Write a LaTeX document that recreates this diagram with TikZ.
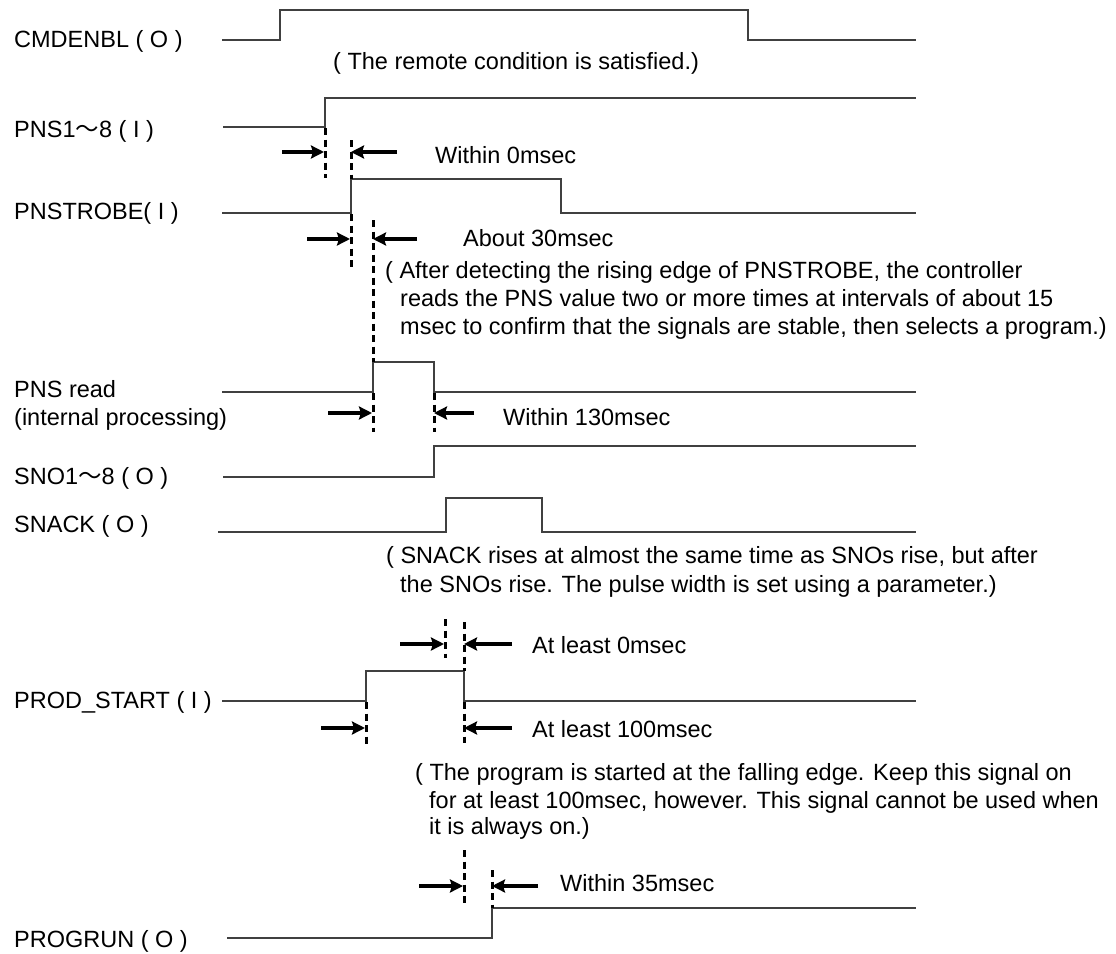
\documentclass[tikz,border=0pt]{standalone}
\usepackage{fontspec}
\setmainfont{Liberation Sans}
\newfontfamily\cjkfont{Noto Sans CJK JP}
\usetikzlibrary{arrows.meta}
\tikzset{
  wave/.style={draw=black!75, line width=2.1pt, line join=miter},
  guide/.style={draw=black, line width=3pt, dash pattern=on 7pt off 4.5pt},
  marker/.style={draw=black, line width=4pt, -{Stealth[length=13pt,width=13pt,inset=2pt]}},
  lbl/.style={anchor=base west, inner sep=0pt, font=\fontsize{23.5}{28}\selectfont},
}
\newcommand{\wdash}{{\cjkfont ～}}
\begin{document}
\begin{tikzpicture}[x=1pt,y=-1pt]
\useasboundingbox (0,0) rectangle (1116,953);

% ---------- signal labels ----------
\node[lbl] (lcmd)  at (14,47)  {CMDENBL ( O )};
\node[lbl] (lpns)  at (14,137) {PNS1\wdash 8 ( I )};
\node[lbl] (lstr)  at (14,219) {PNSTROBE( I )};
\node[lbl] (lrd1)  at (14,397) {PNS read};
\node[lbl] (lrd2)  at (14,425) {(internal processing)};
\node[lbl] (lsno)  at (14,484) {SNO1\wdash 8 ( O )};
\node[lbl] (lsna)  at (14,532) {SNACK ( O )};
\node[lbl] (lprod) at (14,708) {PROD\_START ( I )};
\node[lbl] (lrun)  at (14,947) {PROGRUN ( O )};

% ---------- waveforms ----------
\draw[wave] (222,40) -- (280,40) -- (280,10) -- (748,10) -- (748,40) -- (916,40);
\draw[wave] (223,127) -- (325,127) -- (325,98) -- (916,98);
\draw[wave] (222,213) -- (351,213) -- (351,179) -- (561,179) -- (561,213) -- (916,213);
\draw[wave] (222,392) -- (373,392) -- (373,362) -- (434,362) -- (434,392) -- (916,392);
\draw[wave] (223,477) -- (434,477) -- (434,446) -- (916,446);
\draw[wave] (218,532) -- (446,532) -- (446,498) -- (542,498) -- (542,532) -- (916,532);
\draw[wave] (222,701) -- (366,701) -- (366,671) -- (464,671) -- (464,701) -- (916,701);
\draw[wave] (227,938) -- (492,938) -- (492,908) -- (916,908);

% ---------- guide coordinates ----------
\coordinate (g1a) at (325,128); \coordinate (g1b) at (325,178);
\coordinate (g2a) at (351,140); \coordinate (g2b) at (351,179);
\coordinate (g2c) at (351,214); \coordinate (g2d) at (351,267);
\coordinate (g3a) at (373,220); \coordinate (g3b) at (373,362);
\coordinate (g3c) at (373,393); \coordinate (g3d) at (373,432);
\coordinate (g4a) at (434,393); \coordinate (g4b) at (434,432);
\coordinate (g5a) at (445,619); \coordinate (g5b) at (445,658);
\coordinate (g6a) at (464,622); \coordinate (g6b) at (464,671);
\coordinate (g6c) at (464,702); \coordinate (g6d) at (464,743);
\coordinate (g7a) at (366,702); \coordinate (g7b) at (366,747);
\coordinate (g8a) at (464,850); \coordinate (g8b) at (464,905);
\coordinate (g9a) at (492,870); \coordinate (g9b) at (492,908);

\draw[guide] (g1a) -- (g1b);
\draw[guide] (g2a) -- (g2b);
\draw[guide] (g2c) -- (g2d);
\draw[guide] (g3a) -- (g3b);
\draw[guide] (g3c) -- (g3d);
\draw[guide] (g4a) -- (g4b);
\draw[guide] (g5a) -- (g5b);
\draw[guide] (g6a) -- (g6b);
\draw[guide] (g6c) -- (g6d);
\draw[guide] (g7a) -- (g7b);
\draw[guide] (g8a) -- (g8b);
\draw[guide] (g9a) -- (g9b);

% ---------- interval arrows ----------
\coordinate (a1s) at (282,152); \coordinate (a1e) at (324,152);
\coordinate (b1s) at (397,152); \coordinate (b1e) at (351,152);
\coordinate (a2s) at (307,239); \coordinate (a2e) at (350,239);
\coordinate (b2s) at (417,239); \coordinate (b2e) at (373,239);
\coordinate (a3s) at (328,413); \coordinate (a3e) at (372,413);
\coordinate (b3s) at (474,413); \coordinate (b3e) at (434,413);
\coordinate (a4s) at (400,644); \coordinate (a4e) at (444,644);
\coordinate (b4s) at (512,644); \coordinate (b4e) at (464,644);
\coordinate (a5s) at (321,728); \coordinate (a5e) at (365,728);
\coordinate (b5s) at (512,728); \coordinate (b5e) at (464,728);
\coordinate (a6s) at (419,886); \coordinate (a6e) at (463,886);
\coordinate (b6s) at (538,886); \coordinate (b6e) at (492,886);
\draw[marker] (a1s) -- (a1e); \draw[marker] (b1s) -- (b1e);
\draw[marker] (a2s) -- (a2e); \draw[marker] (b2s) -- (b2e);
\draw[marker] (a3s) -- (a3e); \draw[marker] (b3s) -- (b3e);
\draw[marker] (a4s) -- (a4e); \draw[marker] (b4s) -- (b4e);
\draw[marker] (a5s) -- (a5e); \draw[marker] (b5s) -- (b5e);
\draw[marker] (a6s) -- (a6e); \draw[marker] (b6s) -- (b6e);

% ---------- annotations ----------
\node[lbl] (tremote) at (333,69)  {( The remote condition is satisfied.)};
\node[lbl] (t0)      at (435,163) {Within 0msec};
\node[lbl] (t30)     at (463,246) {About 30msec};
\node[lbl] (p1a)     at (385,278) {( After detecting the rising edge of PNSTROBE, the controller};
\node[lbl] (p1b)     at (400,306) {reads the PNS value two or more times at intervals of about 15};
\node[lbl] (p1c)     at (400,334) {msec to confirm that the signals are stable, then selects a program.)};
\node[lbl] (t130)    at (503,425) {Within 130msec};
\node[lbl] (p2a)     at (386,563) {( SNACK rises at almost the same time as SNOs rise, but after};
\node[lbl] (p2b)     at (400,592) {the SNOs rise. The pulse width is set using a parameter.)};
\node[lbl] (tl0)     at (532,653) {At least 0msec};
\node[lbl] (tl100)   at (532,737) {At least 100msec};
\node[lbl] (p3a)     at (415,780) {( The program is started at the falling edge. Keep this signal on};
\node[lbl] (p3b)     at (429,808) {for at least 100msec, however. This signal cannot be used when};
\node[lbl] (p3c)     at (429,834) {it is always on.)};
\node[lbl] (t35)     at (560,891) {Within 35msec};
\end{tikzpicture}
\end{document}
